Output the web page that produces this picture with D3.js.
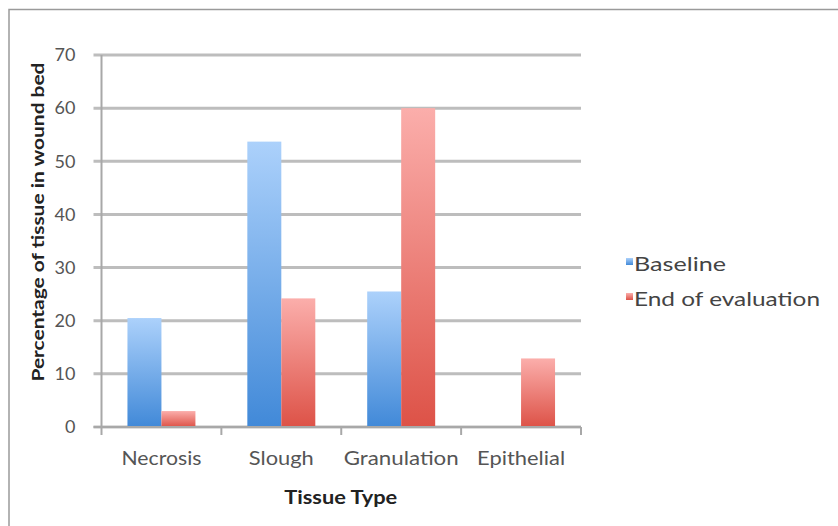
<!DOCTYPE html>
<html>
<head>
<meta charset="utf-8">
<script src="https://cdn.jsdelivr.net/npm/d3@7"></script>
<style>
  html, body { margin: 0; padding: 0; background: #fff; }
  svg { display: block; }
  text { font-family: Lato, "Open Sans", sans-serif; }
</style>
</head>
<body>
<svg id="chart" width="838" height="526"></svg>
<script>
const categories = ["Necrosis", "Slough", "Granulation", "Epithelial"];
const seriesNames = ["Baseline", "End of evaluation"];
const baseline = [20.5, 53.7, 25.5, 0];
const endOfEvaluation = [3, 24.2, 60, 12.9];
const yTicks = [0, 10, 20, 30, 40, 50, 60, 70];
const xTitle = "Tissue Type";
const yTitle = "Percentage of tissue in wound bed";

const catLabelWidths = { "Necrosis": 80, "Slough": 65, "Granulation": 115, "Epithelial": 88 };
const legendWidths = { "Baseline": 92, "End of evaluation": 186 };

const values = [baseline, endOfEvaluation];
const rows = categories.map((c, i) => ({ cat: c, vals: seriesNames.map((s, j) => ({ s, v: values[j][i] })) }));

const svg = d3.select("#chart");
const W = 838, H = 526;
const m = { left: 101.5, right: 257, top: 55, bottom: 99 };
const plotW = W - m.left - m.right; // 480
const plotH = H - m.top - m.bottom; // 372

// frame (top and left edges only)
svg.append("path").attr("d", `M9,526 V9.5 H838`).attr("fill", "none").attr("stroke", "#9a9a9a").attr("stroke-width", 1.5);

const defs = svg.append("defs");
const grads = [
  { id: "gBlue", top: "#acd1fb", bottom: "#4189d8" },
  { id: "gRed", top: "#fbaeab", bottom: "#dd5247" }
];
grads.forEach(g => {
  const lg = defs.append("linearGradient").attr("id", g.id).attr("x1", 0).attr("y1", 0).attr("x2", 0).attr("y2", 1);
  lg.append("stop").attr("offset", "0%").attr("stop-color", g.top);
  lg.append("stop").attr("offset", "100%").attr("stop-color", g.bottom);
});
const color = d3.scaleOrdinal().domain(seriesNames).range(["url(#gBlue)", "url(#gRed)"]);

const g = svg.append("g").attr("transform", `translate(${m.left},${m.top})`);

const x0 = d3.scaleBand().domain(categories).range([0, plotW]).paddingInner(0.433).paddingOuter(0.2165);
const x1 = d3.scaleBand().domain(seriesNames).range([0, x0.bandwidth()]);
const y = d3.scaleLinear().domain([0, 70]).range([plotH, 0]);

// gridlines
g.append("g").selectAll("line").data(yTicks).join("line")
  .attr("x1", -8).attr("x2", plotW)
  .attr("y1", d => y(d)).attr("y2", d => y(d))
  .attr("stroke", "#bdbdbd").attr("stroke-width", 3);

// y axis labels
const yAxis = d3.axisLeft(y).tickValues(yTicks).tickSize(0).tickPadding(26);
const ya = g.append("g").call(yAxis);
ya.select(".domain").remove();
ya.selectAll("text").attr("font-size", 18).attr("fill", "#555").attr("font-family", "Lato, sans-serif");

// bars
const groups = g.append("g").selectAll("g").data(rows).join("g")
  .attr("transform", d => `translate(${x0(d.cat)},0)`);
groups.selectAll("rect").data(d => d.vals.filter(v => v.v > 0)).join("rect")
  .attr("x", d => x1(d.s)).attr("width", x1.bandwidth())
  .attr("y", d => y(d.v)).attr("height", d => y(0) - y(d.v))
  .attr("fill", d => color(d.s));

// axis lines
g.append("line").attr("x1", 0).attr("x2", 0).attr("y1", y(70)).attr("y2", plotH + 1)
  .attr("stroke", "#a8a8a8").attr("stroke-width", 2);
g.append("line").attr("x1", -8).attr("x2", plotW).attr("y1", plotH).attr("y2", plotH)
  .attr("stroke", "#a8a8a8").attr("stroke-width", 2);

// x axis
const xa = g.append("g").attr("transform", `translate(0,${plotH})`)
  .call(d3.axisBottom(x0).tickSize(0).tickPadding(25));
xa.select(".domain").remove();
xa.selectAll("text").attr("font-size", 19).attr("fill", "#555").attr("font-family", "Lato, sans-serif")
  .attr("textLength", d => catLabelWidths[d]).attr("lengthAdjust", "spacingAndGlyphs");

// category boundary ticks
const bounds = categories.map(c => x0(c) - x0.step() * 0.2165).concat([plotW]);
g.append("g").selectAll("line").data(bounds).join("line")
  .attr("x1", d => d).attr("x2", d => d).attr("y1", plotH).attr("y2", plotH + 8)
  .attr("stroke", "#a8a8a8").attr("stroke-width", 2);

// titles
svg.append("text").attr("x", m.left + plotW / 2 - 0.5).attr("y", 504)
  .attr("text-anchor", "middle").attr("font-size", 18).attr("font-weight", "bold").attr("fill", "#222")
  .attr("textLength", 113).attr("lengthAdjust", "spacingAndGlyphs")
  .text(xTitle);
svg.append("text").attr("transform", `translate(44,222) rotate(-90)`)
  .attr("text-anchor", "middle").attr("font-size", 17).attr("font-weight", "bold").attr("fill", "#222")
  .attr("textLength", 319).attr("lengthAdjust", "spacingAndGlyphs")
  .text(yTitle);

// legend
const legend = svg.append("g").selectAll("g").data(seriesNames).join("g")
  .attr("transform", (d, i) => `translate(626,${258 + i * 35})`);
legend.append("rect").attr("width", 7).attr("height", 7).attr("y", 0)
  .attr("fill", d => color(d));
legend.append("text").attr("x", 8).attr("y", 13).attr("font-size", 19).attr("fill", "#444")
  .attr("textLength", d => legendWidths[d]).attr("lengthAdjust", "spacingAndGlyphs")
  .text(d => d);
</script>
</body>
</html>
